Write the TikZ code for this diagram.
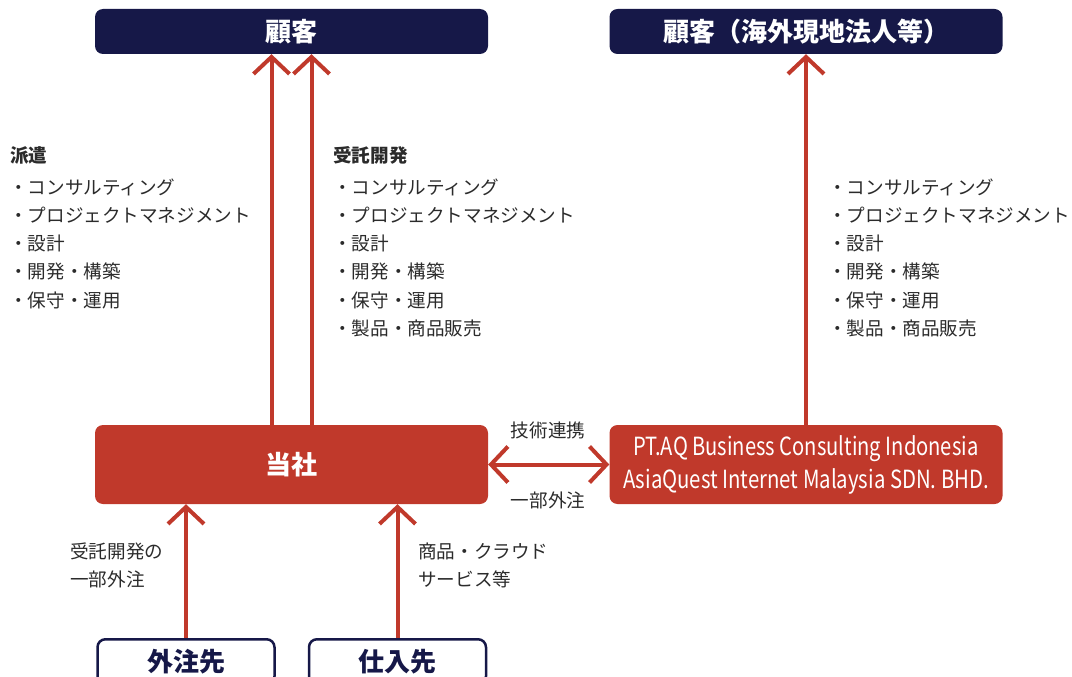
\documentclass[tikz,border=0pt]{standalone}
\usepackage{fontspec}
\setmainfont{Noto Sans CJK JP}
\usetikzlibrary{arrows.meta,positioning}
\definecolor{aqnavy}{HTML}{161848}
\definecolor{aqred}{HTML}{C0392B}
\definecolor{aqtext}{HTML}{2B2B2B}

\begin{document}
\begin{tikzpicture}[x=1pt,y=-1pt,
    navybox/.style={fill=aqnavy,rounded corners=8pt,minimum width=393pt,minimum height=45pt,
      text=white,font=\fontsize{26}{30}\selectfont\bfseries},
    redbox/.style={fill=aqred,rounded corners=8pt,minimum width=393pt,minimum height=79pt,
      text=white,font=\fontsize{26}{30}\selectfont\bfseries},
    linebox/.style={draw=aqnavy,line width=2.5pt,fill=white,rounded corners=8pt,minimum width=177pt,
      minimum height=45pt,text=aqnavy,font=\fontsize{26}{30}\selectfont\bfseries},
    item/.style={inner sep=0pt,anchor=west,text=aqtext,font=\fontsize{18.6}{28}\selectfont},
    head/.style={item,font=\fontsize{18.6}{28}\selectfont\bfseries},
    lab/.style={inner sep=0pt,text=aqtext,font=\fontsize{18.6}{28}\selectfont},
    arr/.style={draw=aqred,line width=4pt,-{Straight Barb[length=17pt,width=36pt]}},
    darr/.style={arr,{Straight Barb[length=17pt,width=36pt]}-{Straight Barb[length=17pt,width=36pt]}}]
  \clip (0,0) rectangle (1072,677);
  \useasboundingbox (0,0) rectangle (1072,677);

  \node[navybox] (kokyaku) at (291.5,31.5) {顧客};
  \node[navybox] (kaigaikokyaku) at (806,31.5) {顧客（海外現地法人等）};
  \node[redbox] (tosha) at (291.5,464.5) {当社};
  \node[redbox,align=center,font=\fontsize{25}{33}\selectfont] (aq) at (806,464.5)
    {\resizebox{345pt}{\height}{PT.AQ Business Consulting Indonesia}\\
     \resizebox{366pt}{\height}{AsiaQuest Internet Malaysia SDN. BHD.}};
  \node[linebox,anchor=north] (gaichu) at (186,638) {外注先};
  \node[linebox,anchor=north] (shiire) at (397.5,638) {仕入先};

  % lists
  \node[head] (haken) at (10,155) {派遣};
  \foreach \t [count=\i] in {コンサルティング,プロジェクトマネジメント,設計,開発・構築,保守・運用}
    \node[item] (haken\i) at (9,{187+28.3*(\i-1)}) {・\t};
  \node[head] (itaku) at (333,155) {受託開発};
  \foreach \t [count=\i] in {コンサルティング,プロジェクトマネジメント,設計,開発・構築,保守・運用,製品・商品販売}
    \node[item] (itaku\i) at (333,{187+28.3*(\i-1)}) {・\t};
  \foreach \t [count=\i] in {コンサルティング,プロジェクトマネジメント,設計,開発・構築,保守・運用,製品・商品販売}
    \node[item] (kaigai\i) at (828,{187+28.3*(\i-1)}) {・\t};

  % arrows
  \draw[arr] ([xshift=-20pt]tosha.north) -- ([xshift=-20pt]kokyaku.south);
  \draw[arr] ([xshift=20pt]tosha.north) -- ([xshift=20pt]kokyaku.south);
  \draw[arr] (aq.north) -- (kaigaikokyaku.south);
  \draw[darr] (tosha.east) -- (aq.west);
  \draw[arr] (gaichu.north) -- (gaichu.north |- tosha.south);
  \draw[arr] (shiire.north) -- (shiire.north |- tosha.south);

  \node[lab] (renkei) at (548,430) {技術連携};
  \node[lab] (gaichulab) at (548,500) {一部外注};
  \node[lab,anchor=north west,align=left] (itakulab) at (70,543) {受託開発の\\一部外注};
  \node[lab,anchor=north west,align=left] (shohinlab) at (418,543) {商品・クラウド\\サービス等};
\end{tikzpicture}
\end{document}
